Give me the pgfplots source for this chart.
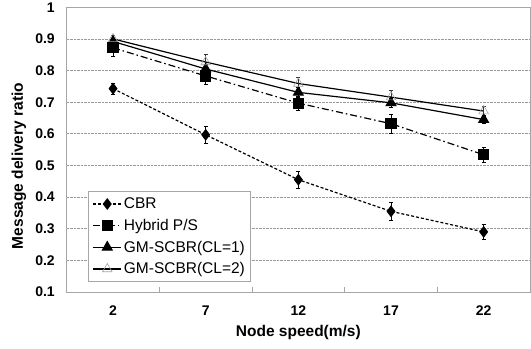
\documentclass[border=0pt]{standalone}
\usepackage{fontspec}
\setmainfont{Liberation Sans}
\usepackage{pgfplots}
\pgfplotsset{compat=1.18}
\begin{document}
\begin{tikzpicture}
\begin{axis}[
  name=ax,
  scale only axis,
  width=463.3pt, height=284.7pt,
  xmin=0.5, xmax=5.5, ymin=0.1, ymax=1,
  xtick={1,2,3,4,5},
  xticklabels={2,7,12,17,22},
  minor xtick={1.5,2.5,3.5,4.5},
  ytick={0.1,0.2,0.3,0.4,0.5,0.6,0.7,0.8,0.9,1},
  yticklabels={0.1,0.2,0.3,0.4,0.5,0.6,0.7,0.8,0.9,1},
  major tick length=0pt,
  minor tick length=5pt,
  tick align=inside,
  xtick pos=bottom, ytick pos=left,
  minor tick style={gray!70, line width=0.6pt},
  ymajorgrids,
  major grid style={densely dotted, gray!80, line width=0.7pt},
  axis line style={gray!70, line width=1pt},
  /pgf/number format/assume math mode=true,
  ticklabel style={font=\fontsize{14}{16}\selectfont\bfseries},
  xticklabel style={anchor=center, yshift=-19pt},
  yticklabel style={anchor=east, xshift=-8.4pt},
  xlabel={Node speed(m/s)},
  ylabel={Message delivery ratio},
  label style={font=\fontsize{15.5}{17}\selectfont\bfseries},
  xlabel style={at={(axis description cs:0.5,-0.1405)}, anchor=center},
  ylabel style={at={(axis description cs:-0.103,0.4426)}, anchor=center, rotate=0},
  legend style={at={(axis description cs:0.0466,0.036)}, anchor=south west,
    draw=gray!70, line width=0.8pt, fill=white,
    font=\fontsize{15.5}{17}\selectfont, row sep=5pt,
    inner xsep=4pt, inner ysep=4pt},
  legend cell align=left,
  legend image code/.code={\draw[mark repeat=2,mark phase=2,#1] plot coordinates {(0pt,0pt) (14pt,0pt) (28pt,0pt)};},
  every axis plot/.append style={line width=1.2pt},
]
\addplot[black, densely dashed, mark=diamond*, mark size=5pt, mark options={solid, fill=black},
  error bars/.cd, y dir=both, y explicit,
  error bar style={line width=0.6pt, solid, black},
  error mark options={rotate=90, mark size=2pt, line width=0.6pt}]
  coordinates {
  (1,0.743) +- (0,0.017)
  (2,0.597) +- (0,0.026)
  (3,0.455) +- (0,0.028)
  (4,0.355) +- (0,0.027)
  (5,0.290) +- (0,0.023)
};
\addlegendentry{CBR}
\addplot[black, dash pattern=on 7pt off 3pt on 1.5pt off 3pt, mark=square*, mark size=5pt, mark options={solid, fill=black},
  error bars/.cd, y dir=both, y explicit,
  error bar style={line width=0.6pt, solid, black},
  error mark options={rotate=90, mark size=2pt, line width=0.6pt}]
  coordinates {
  (1,0.872) +- (0,0.026)
  (2,0.783) +- (0,0.027)
  (3,0.697) +- (0,0.022)
  (4,0.632) +- (0,0.030)
  (5,0.534) +- (0,0.025)
};
\addlegendentry{Hybrid P/S}
\addplot[black, solid, mark=triangle*, mark size=5.5pt, mark options={solid, fill=black},
  error bars/.cd, y dir=both, y explicit,
  error bar style={line width=0.6pt, solid, black},
  error mark options={rotate=90, mark size=2pt, line width=0.6pt}]
  coordinates {
  (1,0.892) +- (0,0.010)
  (2,0.805) +- (0,0.015)
  (3,0.731) +- (0,0.015)
  (4,0.698) +- (0,0.015)
  (5,0.645) +- (0,0.013)
};
\addlegendentry{GM-SCBR(CL=1)}
\addplot[black, solid, mark=triangle, mark size=5.5pt, mark options={solid, draw=gray!70, fill=white, line width=0.6pt},
  error bars/.cd, y dir=both, y explicit,
  error bar style={line width=0.6pt, solid, black!80},
  error mark options={rotate=90, mark size=2pt, line width=0.6pt}]
  coordinates {
  (1,0.900) +- (0,0.012)
  (2,0.827) +- (0,0.025)
  (3,0.759) +- (0,0.020)
  (4,0.716) +- (0,0.022)
  (5,0.672) +- (0,0.016)
};
\addlegendentry{GM-SCBR(CL=2)}
\end{axis}
\pgfresetboundingbox
\path ([xshift=-66.7pt,yshift=-56pt]ax.south west) rectangle ([xshift=1pt,yshift=7.3pt]ax.north east);
\end{tikzpicture}
\end{document}
